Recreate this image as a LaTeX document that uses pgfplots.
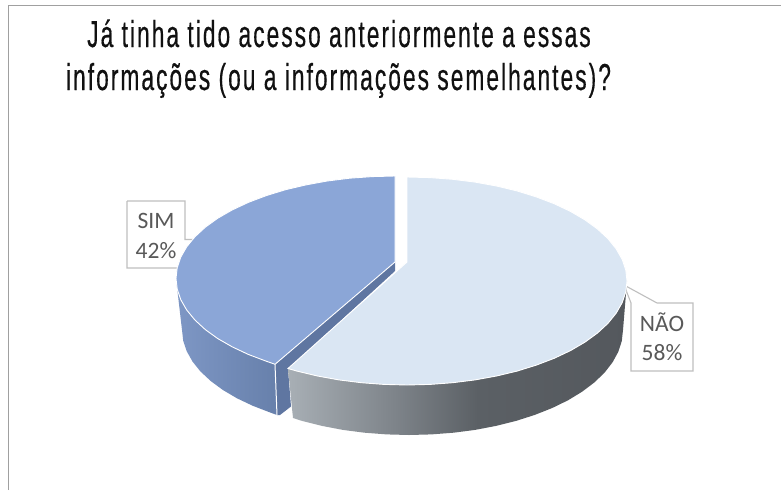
\documentclass[border=0pt]{standalone}
\usepackage{fontspec}
\setmainfont{Carlito}
\newfontfamily\titlefont[FakeStretch=0.605,LetterSpace=5.5,FakeBold=0.4]{Liberation Sans}
\usepackage{pgfplots}
\pgfplotsset{compat=1.18}

\definecolor{naoTop}{HTML}{DAE6F3}
\definecolor{simTop}{HTML}{8BA6D7}
\definecolor{simCut}{HTML}{5F76A1}
\definecolor{frameGray}{HTML}{A0A0A0}
\definecolor{calloutGray}{HTML}{BFBFBF}
\definecolor{labelGray}{HTML}{595959}
\definecolor{titleInk}{HTML}{111111}

\definecolor{naoA}{HTML}{A8AFB5}
\definecolor{naoB}{HTML}{7D8389}
\definecolor{naoC}{HTML}{5B6065}
\definecolor{naoD}{HTML}{54585D}
\definecolor{simA}{HTML}{7E97C5}
\definecolor{simB}{HTML}{6780AB}

\pgfdeclarehorizontalshading{naoSide}{100bp}{
  color(0bp)=(naoA); color(25bp)=(naoA); color(41bp)=(naoB);
  color(53bp)=(naoC); color(75bp)=(naoD); color(100bp)=(naoD)}
\pgfdeclarehorizontalshading{simSide}{100bp}{
  color(0bp)=(simA); color(25bp)=(simA); color(75bp)=(simB); color(100bp)=(simB)}

\begin{document}
\begin{tikzpicture}
\begin{axis}[
  width=781pt, height=490pt, scale only axis,
  xmin=0, xmax=781, ymin=0, ymax=490, y dir=reverse,
  axis lines=none, clip=true]

% page background and frame
\addplot[draw=none, fill=white] coordinates {(0,0) (781,0) (781,490) (0,490)};
\addplot[frameGray, line width=1.6pt] coordinates {(8.5,490) (8.5,5.5) (781,5.5)};

% callout boxes
\addplot[calloutGray, fill=white, line width=1.1pt] coordinates {
  (127,201) (185,201) (185,239.5) (198,239.5) (185,258) (185,268) (127,268) (127,201)};
\addplot[calloutGray, fill=white, line width=1.1pt] coordinates {
  (631,303) (624,285) (657,303) (693,303) (693,371) (631,371) (631,303)};

% side wall of the SIM slice
\addplot[draw=none, shading=simSide] coordinates {
  (176,278.4) (177.2,289.1) (180.8,299.7) (186.7,310) (194.9,320) (205.3,329.6)
  (217.8,338.6) (232.3,346.9) (248.5,354.5) (266.3,361.2) (275,364.3)
  (277,415) (270.2,412.5) (252.8,405.8) (237,398.3) (222.9,390) (210.7,381)
  (200.5,371.5) (192.5,361.5) (186.7,351.2) (183.2,340.7) (182,330)};

% cut face of the SIM slice
\addplot[draw=none, fill=simCut] coordinates {
  (395,262) (275,364.3) (277,415) (280,415) (291,406.5) (288,369) (395,271)};

% front edge of the SIM slice
\addplot[white, line width=1pt] coordinates {(275,364.3) (277,415)};

% top face of the SIM slice
\addplot[white, line width=0.9pt, fill=simTop] coordinates {
  (395,262) (395,176) (372.1,176.6) (349.5,178.2) (327.3,181) (305.9,184.9)
  (285.5,189.7) (266.3,195.6) (248.5,202.3) (232.3,209.9) (217.8,218.2)
  (205.3,227.2) (194.9,236.8) (186.7,246.8) (180.8,257.1) (177.2,267.7)
  (176,278.4) (177.2,289.1) (180.8,299.7) (186.7,310) (194.9,320) (205.3,329.6)
  (217.8,338.6) (232.3,346.9) (248.5,354.5) (266.3,361.2) (275,364.3) (395,262)};

% side wall of the NAO slice
\addplot[draw=none, shading=naoSide] coordinates {
  (627,281) (625.8,291.9) (622.2,302.6) (616.2,313.1) (608,323.3) (597.5,333)
  (585,342.1) (570.5,350.6) (554.2,358.3) (536.3,365.1) (517,371.1) (496.5,376)
  (475,379.9) (452.7,382.7) (430,384.4) (407,385) (384,384.4) (361.3,382.7)
  (339,379.9) (317.5,376) (297,371.1) (288,368.5)
  (293,418) (302,420.9) (322,425.9) (342.9,429.9) (364.5,432.7) (386.6,434.4)
  (409,435) (431.4,434.4) (453.5,432.7) (475.1,429.9) (496,425.9) (516,420.9)
  (534.8,414.9) (552.2,408) (568,400.3) (582.1,391.7) (594.3,382.5) (604.5,372.7)
  (612.5,362.4) (618.3,351.8) (621.8,341) (623,330)};

% top face of the NAO slice
\addplot[white, line width=0.9pt, fill=naoTop] coordinates {
  (407,262) (407,177) (430,177.6) (452.7,179.3) (475,182.1) (496.5,186) (517,190.9)
  (536.3,196.9) (554.2,203.7) (570.5,211.4) (585,219.9) (597.5,229) (608,238.7)
  (616.2,248.9) (622.2,259.4) (625.8,270.1) (627,281) (625.8,291.9) (622.2,302.6)
  (616.2,313.1) (608,323.3) (597.5,333) (585,342.1) (570.5,350.6) (554.2,358.3)
  (536.3,365.1) (517,371.1) (496.5,376) (475,379.9) (452.7,382.7) (430,384.4)
  (407,385) (384,384.4) (361.3,382.7) (339,379.9) (317.5,376) (297,371.1)
  (288,368.5) (407,262)};

% title
\node[anchor=base, text=titleInk, font=\titlefont\fontsize{37.5}{37.5}\selectfont]
  at (axis cs:339,47) {Já tinha tido acesso anteriormente a essas};
\node[anchor=base, text=titleInk, font=\titlefont\fontsize{37.5}{37.5}\selectfont]
  at (axis cs:338.5,90) {informações (ou a informações semelhantes)?};

% data labels
\node[anchor=base, text=labelGray, font=\fontsize{23.5}{23.5}\selectfont]
  at (axis cs:156,228) {SIM};
\node[anchor=base, text=labelGray, font=\fontsize{23.5}{23.5}\selectfont]
  at (axis cs:156,258) {42\%};
\node[anchor=base, text=labelGray, font=\fontsize{23.5}{23.5}\selectfont]
  at (axis cs:662,331) {NÃO};
\node[anchor=base, text=labelGray, font=\fontsize{23.5}{23.5}\selectfont]
  at (axis cs:662,360) {58\%};
\end{axis}
\end{tikzpicture}
\end{document}
